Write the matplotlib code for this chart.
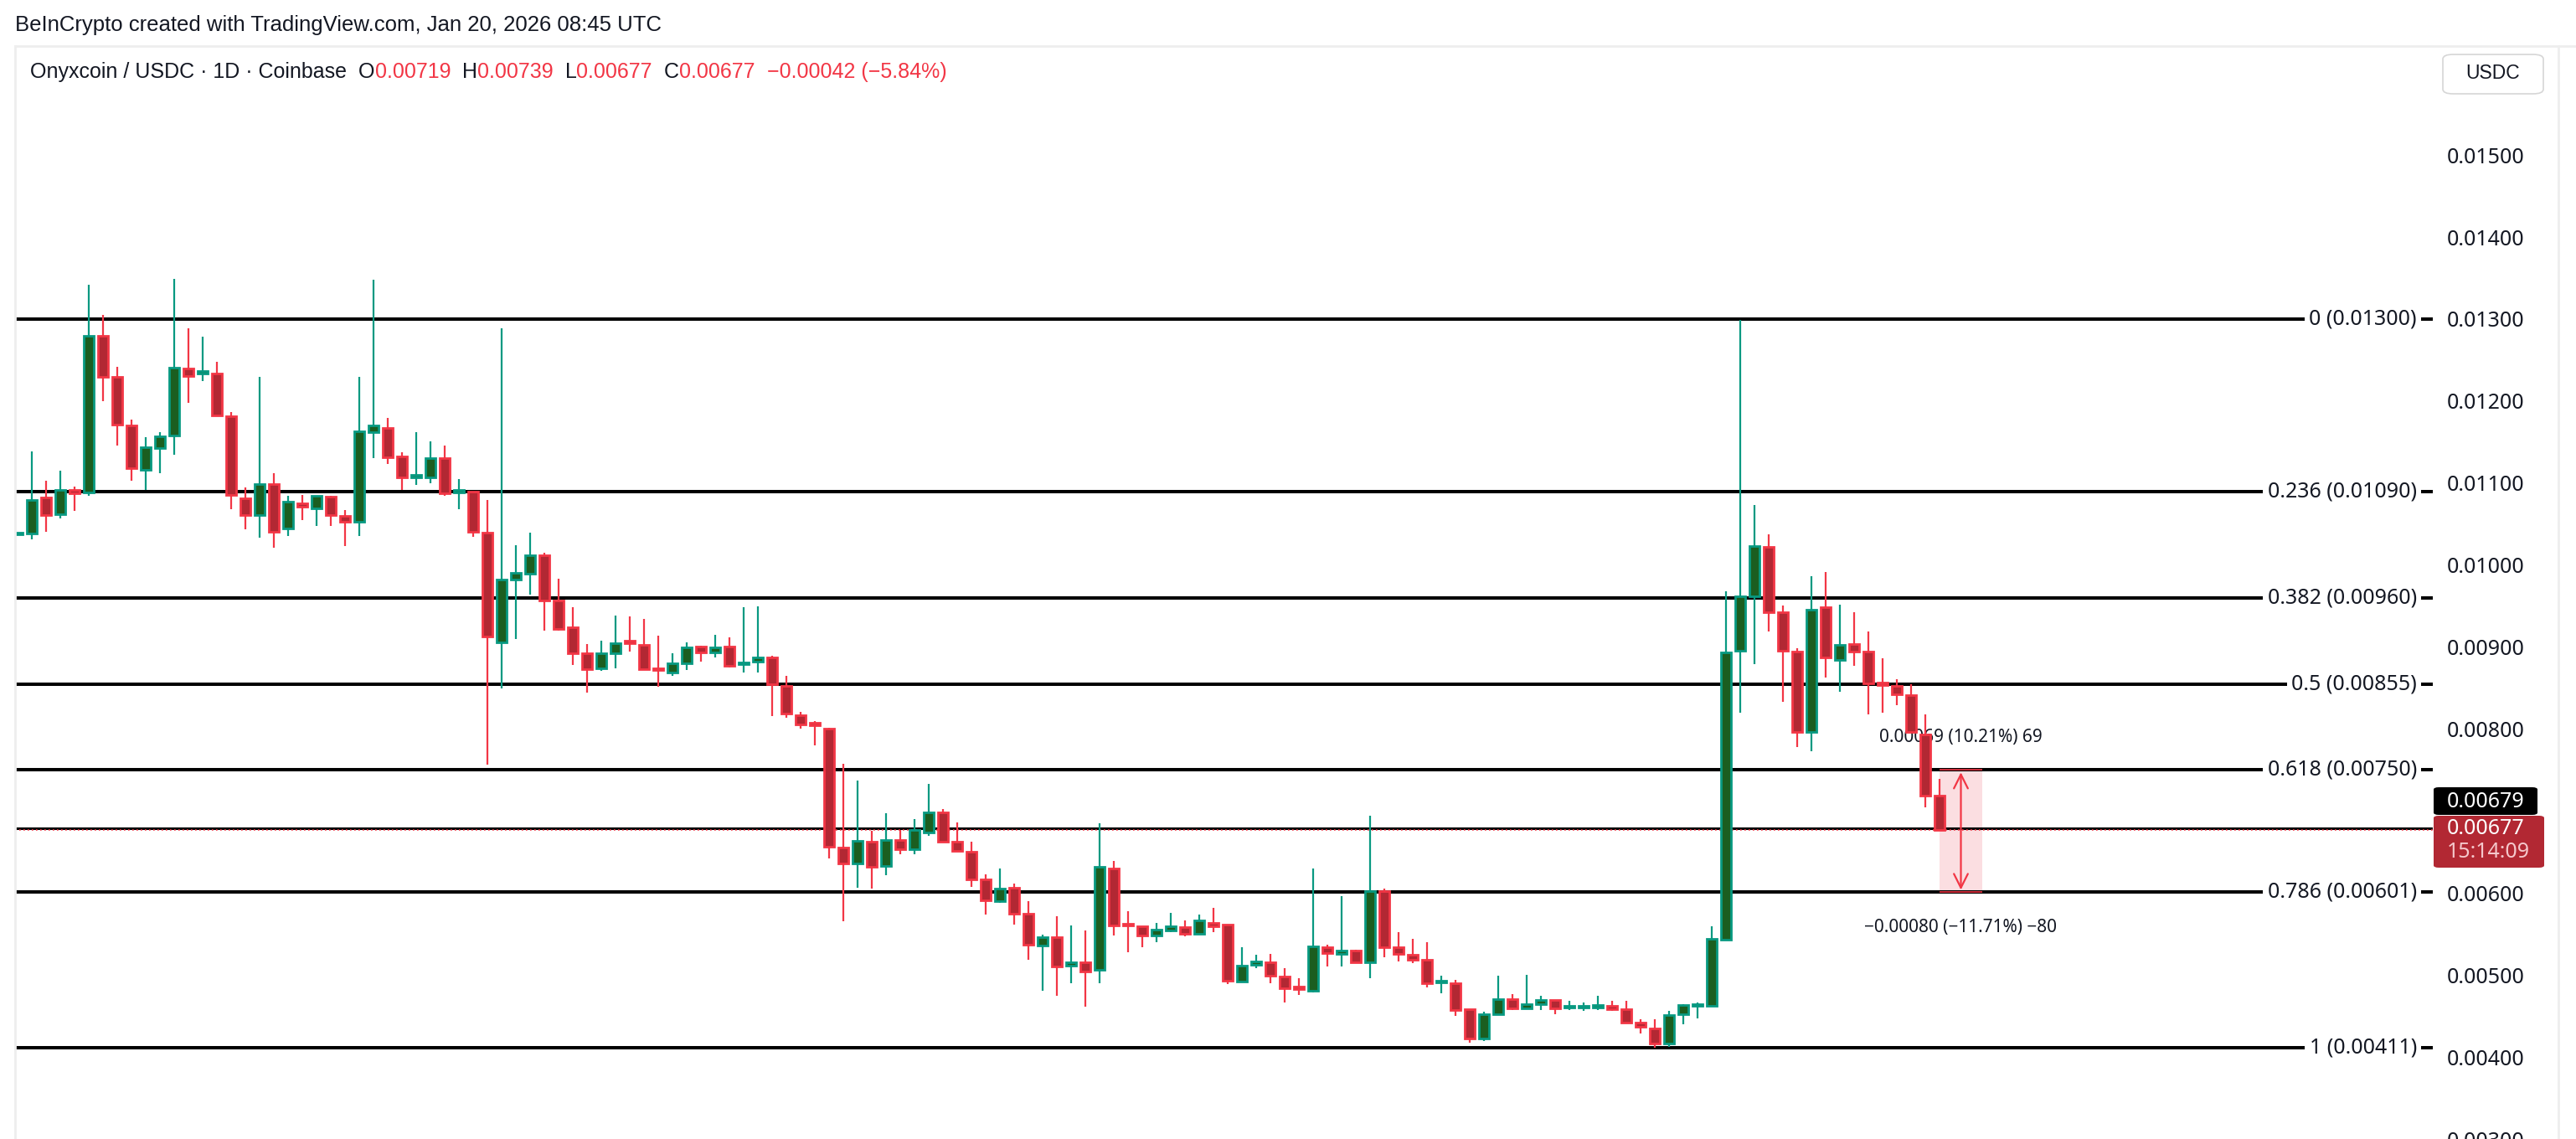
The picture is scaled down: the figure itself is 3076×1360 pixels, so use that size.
import matplotlib
matplotlib.use("Agg")
import matplotlib.pyplot as plt
from matplotlib.patches import Rectangle, FancyBboxPatch

# ========= data =========
opens = [0.01037, 0.01038, 0.01082, 0.01062, 0.01092, 0.01089, 0.01280, 0.01230, 0.01170, 0.01116,
         0.01143, 0.01158, 0.01240, 0.01234, 0.01234, 0.01182, 0.01081, 0.01061, 0.01099, 0.01045,
         0.01075, 0.01069, 0.01083, 0.01060, 0.01053, 0.01162, 0.01167, 0.01132, 0.01107, 0.01107,
         0.01130, 0.01089, 0.01090, 0.01040, 0.00906, 0.00982, 0.00989, 0.01012, 0.00957, 0.00924,
         0.00892, 0.00874, 0.00892, 0.00906, 0.00903, 0.00873, 0.00869, 0.00880, 0.00901, 0.00893,
         0.00901, 0.00879, 0.00882, 0.00887, 0.00853, 0.00817, 0.00806, 0.00800, 0.00655, 0.00636,
         0.00663, 0.00633, 0.00665, 0.00653, 0.00674, 0.00698, 0.00663, 0.00650, 0.00617, 0.00590,
         0.00606, 0.00575, 0.00536, 0.00546, 0.00511, 0.00516, 0.00506, 0.00630, 0.00561, 0.00559,
         0.00548, 0.00554, 0.00558, 0.00550, 0.00564, 0.00561, 0.00492, 0.00512, 0.00516, 0.00498,
         0.00484, 0.00481, 0.00534, 0.00526, 0.00530, 0.00516, 0.00602, 0.00534, 0.00525, 0.00519,
         0.00491, 0.00490, 0.00458, 0.00423, 0.00452, 0.00471, 0.00459, 0.00464, 0.00470, 0.00460,
         0.00460, 0.00460, 0.00462, 0.00458, 0.00442, 0.00435, 0.00416, 0.00452, 0.00462, 0.00462,
         0.00543, 0.00896, 0.00962, 0.01022, 0.00942, 0.00894, 0.00796, 0.00949, 0.00884, 0.00904,
         0.00894, 0.00855, 0.00853, 0.00841, 0.00793, 0.00719]
highs = [0.01038, 0.01139, 0.01103, 0.01115, 0.01096, 0.01342, 0.01305, 0.01242, 0.01177, 0.01156,
         0.01162, 0.01349, 0.01289, 0.01279, 0.01248, 0.01187, 0.01095, 0.01230, 0.01112, 0.01084,
         0.01085, 0.01084, 0.01084, 0.01067, 0.01230, 0.01348, 0.01179, 0.01138, 0.01162, 0.01151,
         0.01146, 0.01105, 0.01090, 0.01079, 0.01289, 0.01024, 0.01040, 0.01015, 0.00983, 0.00949,
         0.00904, 0.00908, 0.00938, 0.00937, 0.00934, 0.00914, 0.00892, 0.00906, 0.00902, 0.00915,
         0.00912, 0.00949, 0.00950, 0.00889, 0.00865, 0.00821, 0.00810, 0.00802, 0.00758, 0.00737,
         0.00676, 0.00697, 0.00677, 0.00690, 0.00733, 0.00702, 0.00686, 0.00663, 0.00623, 0.00630,
         0.00612, 0.00590, 0.00549, 0.00572, 0.00560, 0.00554, 0.00685, 0.00639, 0.00578, 0.00559,
         0.00564, 0.00576, 0.00567, 0.00574, 0.00582, 0.00561, 0.00534, 0.00525, 0.00526, 0.00508,
         0.00496, 0.00630, 0.00537, 0.00596, 0.00531, 0.00694, 0.00605, 0.00552, 0.00544, 0.00540,
         0.00499, 0.00494, 0.00458, 0.00455, 0.00499, 0.00477, 0.00500, 0.00475, 0.00470, 0.00469,
         0.00467, 0.00475, 0.00469, 0.00469, 0.00446, 0.00446, 0.00456, 0.00464, 0.00466, 0.00559,
         0.00968, 0.01299, 0.01073, 0.01037, 0.00951, 0.00899, 0.00986, 0.00992, 0.00952, 0.00942,
         0.00919, 0.00886, 0.00861, 0.00855, 0.00818, 0.00739]
lows = [0.01037, 0.01031, 0.01041, 0.01057, 0.01066, 0.01084, 0.01200, 0.01146, 0.01103, 0.01092,
        0.01112, 0.01135, 0.01198, 0.01224, 0.01183, 0.01068, 0.01044, 0.01033, 0.01021, 0.01035,
        0.01055, 0.01048, 0.01048, 0.01023, 0.01035, 0.01130, 0.01123, 0.01092, 0.01098, 0.01100,
        0.01084, 0.01068, 0.01034, 0.00757, 0.00850, 0.00910, 0.00964, 0.00920, 0.00920, 0.00878,
        0.00844, 0.00871, 0.00874, 0.00894, 0.00872, 0.00852, 0.00865, 0.00872, 0.00882, 0.00887,
        0.00875, 0.00869, 0.00869, 0.00816, 0.00814, 0.00800, 0.00780, 0.00642, 0.00566, 0.00606,
        0.00605, 0.00622, 0.00647, 0.00647, 0.00670, 0.00662, 0.00650, 0.00607, 0.00574, 0.00588,
        0.00562, 0.00519, 0.00481, 0.00475, 0.00490, 0.00461, 0.00490, 0.00548, 0.00528, 0.00534,
        0.00540, 0.00552, 0.00547, 0.00550, 0.00552, 0.00489, 0.00492, 0.00508, 0.00490, 0.00467,
        0.00476, 0.00479, 0.00510, 0.00510, 0.00514, 0.00496, 0.00522, 0.00517, 0.00514, 0.00485,
        0.00478, 0.00450, 0.00417, 0.00419, 0.00451, 0.00457, 0.00459, 0.00457, 0.00452, 0.00457,
        0.00456, 0.00457, 0.00456, 0.00441, 0.00429, 0.00411, 0.00412, 0.00440, 0.00447, 0.00462,
        0.00543, 0.00820, 0.00879, 0.00919, 0.00833, 0.00778, 0.00773, 0.00863, 0.00845, 0.00877,
        0.00818, 0.00820, 0.00829, 0.00796, 0.00705, 0.00677]
closes = [0.01038, 0.01079, 0.01061, 0.01092, 0.01088, 0.01280, 0.01230, 0.01171, 0.01118, 0.01144,
          0.01157, 0.01241, 0.01231, 0.01235, 0.01183, 0.01085, 0.01061, 0.01099, 0.01041, 0.01077,
          0.01071, 0.01084, 0.01061, 0.01053, 0.01163, 0.01170, 0.01131, 0.01107, 0.01108, 0.01130,
          0.01088, 0.01090, 0.01041, 0.00913, 0.00982, 0.00991, 0.01012, 0.00957, 0.00922, 0.00892,
          0.00873, 0.00892, 0.00905, 0.00905, 0.00873, 0.00872, 0.00880, 0.00900, 0.00893, 0.00900,
          0.00877, 0.00880, 0.00887, 0.00855, 0.00819, 0.00806, 0.00805, 0.00656, 0.00636, 0.00664,
          0.00632, 0.00665, 0.00653, 0.00677, 0.00698, 0.00663, 0.00651, 0.00617, 0.00591, 0.00605,
          0.00575, 0.00537, 0.00546, 0.00510, 0.00516, 0.00504, 0.00632, 0.00560, 0.00560, 0.00548,
          0.00555, 0.00559, 0.00550, 0.00567, 0.00559, 0.00493, 0.00511, 0.00517, 0.00499, 0.00484,
          0.00483, 0.00535, 0.00527, 0.00530, 0.00516, 0.00602, 0.00534, 0.00526, 0.00519, 0.00490,
          0.00492, 0.00457, 0.00423, 0.00452, 0.00471, 0.00459, 0.00464, 0.00470, 0.00459, 0.00460,
          0.00461, 0.00463, 0.00458, 0.00442, 0.00437, 0.00416, 0.00451, 0.00463, 0.00463, 0.00544,
          0.00893, 0.00962, 0.01023, 0.00942, 0.00896, 0.00796, 0.00946, 0.00887, 0.00903, 0.00894,
          0.00856, 0.00854, 0.00842, 0.00796, 0.00719, 0.00677]

fib_ratios = ["0", "0.236", "0.382", "0.5", "0.618", "0.786", "1"]
fib_prices = [0.01300, 0.01090, 0.00960, 0.00855, 0.00750, 0.00601, 0.00411]
hline_price = 0.00679
last_price = 0.00677
countdown = "15:14:09"
price_ticks = [0.003, 0.004, 0.005, 0.006, 0.008, 0.009, 0.010, 0.011, 0.012, 0.013, 0.014, 0.015]
measure_top = 0.00750
measure_bottom = 0.00601
measure_up_text = "0.00069 (10.21%) 69"
measure_down_text = "\u22120.00080 (\u221211.71%) \u221280"

# ========= 颜色 =========
UP_FILL, UP_EDGE = "#1b5e20", "#089981"
DN_FILL, DN_EDGE = "#b22833", "#f23645"
TXT = "#131722"
NUMFONT = ["Noto Sans", "DejaVu Sans"]
plt.rcParams["font.family"] = ["Liberation Sans", "DejaVu Sans"]

W, H = 3076, 1360
fig = plt.figure(figsize=(W / 100, H / 100), dpi=100)
fig.patch.set_facecolor("white")

# plot area in pixels: x 18..2905, y 55..1360
ax = fig.add_axes([18 / W, 0, (2905 - 18) / W, 1 - 55 / H])
ax.set_xlim((18 - 21) / 17, (2905 - 21) / 17)
ax.set_ylim(0.013 - (1360 - 381) / 97900, 0.013 + (381 - 55) / 97900)
for s in ax.spines.values():
    s.set_visible(False)
ax.set_xticks([])
ax.yaxis.tick_right()
ax.set_yticks(price_ticks)
ax.set_yticklabels([f"{p:.5f}" for p in price_ticks])
ax.tick_params(axis="y", length=0, pad=12, labelsize=18, labelcolor=TXT)
for t in ax.get_yticklabels():
    t.set_fontfamily(NUMFONT)

# ========= candles =========
xs = list(range(len(opens)))
min_h = 0.000025
for i in xs:
    o, h, l, c = opens[i], highs[i], lows[i], closes[i]
    up = c >= o
    edge = UP_EDGE if up else DN_EDGE
    fill = UP_FILL if up else DN_FILL
    ax.vlines(i, l, h, color=edge, linewidth=1.6, zorder=3)
    bot = min(o, c)
    ht = max(abs(c - o), min_h)
    ax.bar(i, ht, bottom=bot, width=0.76, color=fill, edgecolor=edge, linewidth=2.0, zorder=4)

# ========= fib lines =========
label_x = (2886 - 21) / 17
for r, p in zip(fib_ratios, fib_prices):
    ax.axhline(p, color="black", linewidth=2.9, zorder=2)
    ax.text(label_x, p, f"{r} ({p:.5f})", ha="right", va="center", fontsize=18, color=TXT,
            family=NUMFONT, zorder=2.5,
            bbox=dict(facecolor="white", edgecolor="none", pad=4))
ax.axhline(hline_price, color="black", linewidth=2.2, zorder=2)
ax.axhline(last_price, color=DN_EDGE, linewidth=1.2, linestyle=(0, (1, 2)), zorder=2.2)

# ========= measure tool =========
mx0, mx1 = 135, (2367 - 21) / 17
ax.add_patch(Rectangle((mx0, measure_bottom), mx1 - mx0, measure_top - measure_bottom,
                       facecolor="#fbd9dc", edgecolor="none", alpha=0.85, zorder=1.5))
ax.hlines([measure_top, measure_bottom], mx0, mx1, color=DN_EDGE, linewidth=1.2, zorder=2.6)
mxc = (mx0 + mx1) / 2
ax.annotate("", xy=(mxc, measure_top), xytext=(mxc, measure_bottom),
            arrowprops=dict(arrowstyle="<->", color=DN_EDGE, lw=1.6, mutation_scale=30), zorder=2.7)
ax.text(mxc, 0.00790, measure_up_text, ha="center", va="center", fontsize=15, color=TXT, zorder=2.5,
        family=NUMFONT)
ax.text(mxc, 0.00558, measure_down_text, ha="center", va="center", fontsize=15, color=TXT, zorder=2.5,
        family=NUMFONT)

# ========= price badges on the axis =========
# black badge 940..973 px, red badge 974..1036 px (shifted by TradingView to avoid overlap)
fig.patches.append(FancyBboxPatch((2906 / W, 1 - 973 / H), 124 / W, 33 / H,
                                  boxstyle="round,pad=0,rounding_size=0.002",
                                  transform=fig.transFigure, facecolor="black", edgecolor="none"))
fig.text(2922 / W, 1 - 957 / H, f"{hline_price:.5f}", color="white", fontsize=18,
         va="center", family=NUMFONT)
fig.patches.append(FancyBboxPatch((2906 / W, 1 - 1036 / H), 132 / W, 62 / H,
                                  boxstyle="round,pad=0,rounding_size=0.002",
                                  transform=fig.transFigure, facecolor=DN_FILL, edgecolor="none"))
fig.text(2922 / W, 1 - 990 / H, f"{last_price:.5f}", color="white", fontsize=18,
         va="center", family=NUMFONT)
fig.text(2922 / W, 1 - 1018 / H, countdown, color="#f5c8cc", fontsize=18,
         va="center", family=NUMFONT)

# ========= frame & header =========
fig.add_artist(plt.Line2D([18 / W, 3076 / W], [1 - 55 / H, 1 - 55 / H], color="#eeeeee", lw=2))
fig.add_artist(plt.Line2D([18 / W, 18 / W], [0, 1 - 55 / H], color="#eeeeee", lw=2))
fig.add_artist(plt.Line2D([3055 / W, 3055 / W], [0, 1 - 55 / H], color="#eeeeee", lw=2))
fig.patches.append(FancyBboxPatch((2917 / W, 1 - 112 / H), 120 / W, 47 / H,
                                  boxstyle="round,pad=0,rounding_size=0.004",
                                  transform=fig.transFigure, facecolor="white", edgecolor="#d6d6d6", lw=1.2))
fig.text(2977 / W, 1 - 88 / H, "USDC", ha="center", va="center", fontsize=16.5, color=TXT)

fig.text(18 / W, 1 - 30 / H, "BeInCrypto created with TradingView.com, Jan 20, 2026 08:45 UTC",
         fontsize=18.5, color=TXT, va="center")

pieces = [("Onyxcoin / USDC \u00b7 1D \u00b7 Coinbase  ", TXT), ("O", TXT), ("0.00719  ", DN_EDGE),
          ("H", TXT), ("0.00739  ", DN_EDGE), ("L", TXT), ("0.00677  ", DN_EDGE),
          ("C", TXT), ("0.00677  ", DN_EDGE), ("\u22120.00042 (\u22125.84%)", DN_EDGE)]
prev = fig.text(36 / W, 1 - 86 / H, pieces[0][0], fontsize=18, color=pieces[0][1], va="center")
for txt, col in pieces[1:]:
    prev = ax.annotate(txt, xy=(1, 0.5), xycoords=prev, va="center", ha="left",
                       fontsize=18, color=col, annotation_clip=False)

fig.savefig("out.png", dpi=100, facecolor="white")
